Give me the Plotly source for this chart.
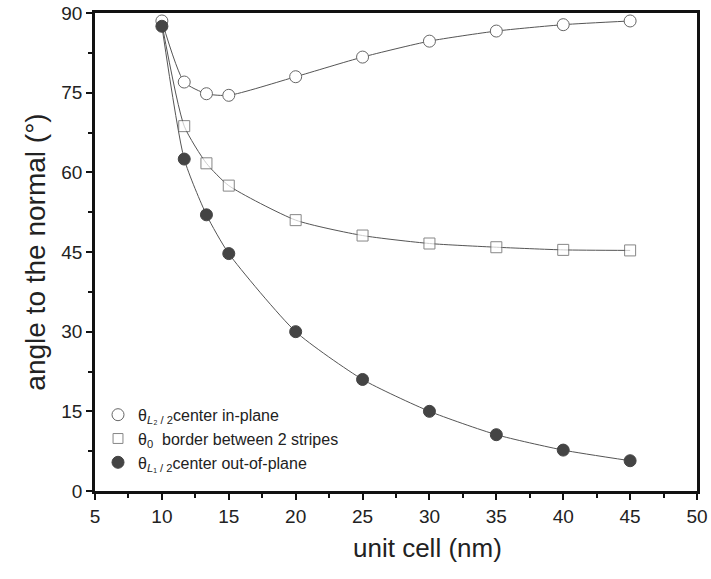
import plotly.graph_objects as go

unit_cell = [10, 11.67, 13.33, 15, 20, 25, 30, 35, 40, 45]
theta_in_plane = [88.5, 77.0, 74.8, 74.5, 78.0, 81.7, 84.7, 86.6, 87.8, 88.5]
theta_border = [88.0, 68.7, 61.7, 57.5, 51.0, 48.1, 46.6, 45.9, 45.4, 45.3]
theta_out_plane = [87.5, 62.5, 52.0, 44.7, 30.0, 21.0, 15.0, 10.6, 7.7, 5.7]

names = [
    "θ<sub><i>L</i>₂ / 2</sub>center in-plane",
    "θ<sub>0</sub>  border between 2 stripes",
    "θ<sub><i>L</i>₁ / 2</sub>center out-of-plane",
]

fig = go.Figure()
line_style = dict(color="#555555", width=1, shape="spline", smoothing=0.6)
for ys in [theta_in_plane, theta_border, theta_out_plane]:
    fig.add_trace(go.Scatter(x=unit_cell, y=ys, mode="lines", line=line_style,
                             showlegend=False, hoverinfo="skip"))

fig.add_trace(go.Scatter(x=unit_cell, y=theta_in_plane, mode="markers", name=names[0],
                         marker=dict(symbol="circle", size=12, color="white",
                                     line=dict(color="#666666", width=1))))
fig.add_trace(go.Scatter(x=unit_cell, y=theta_border, mode="markers", name=names[1],
                         marker=dict(symbol="square", size=[0] + [11] * 9, color="white",
                                     line=dict(color="#555555", width=1))))
fig.add_trace(go.Scatter(x=unit_cell, y=theta_out_plane, mode="markers", name=names[2],
                         marker=dict(symbol="circle", size=12, color="#444444",
                                     line=dict(color="#444444", width=1))))

font = "Liberation Sans, Arial, sans-serif"
fig.update_layout(
    width=711, height=579,
    margin=dict(l=95, r=14, t=13, b=88),
    paper_bgcolor="white", plot_bgcolor="white",
    font=dict(family=font, color="#222222", size=17),
    legend=dict(x=0.005, y=0.195, xanchor="left", yanchor="top",
                bgcolor="rgba(0,0,0,0)", font=dict(size=16), itemwidth=30,
                tracegroupgap=0),
    xaxis=dict(range=[5, 50], tickmode="linear", tick0=5, dtick=5, automargin=False,
               ticks="outside", ticklen=6, tickwidth=1.5, tickcolor="#111",
               showline=True, linecolor="#111", linewidth=2.5, mirror=True,
               showgrid=False, zeroline=False,
               minor=dict(ticks="outside", ticklen=4, dtick=2.5, tickcolor="#111", tickwidth=1.5),
               tickfont=dict(size=19)),
    yaxis=dict(range=[0, 90], tickmode="linear", tick0=0, dtick=15, automargin=False,
               ticks="outside", ticklen=6, tickwidth=1.5, tickcolor="#111",
               showline=True, linecolor="#111", linewidth=2.5, mirror=True,
               showgrid=False, zeroline=False,
               minor=dict(ticks="outside", ticklen=4, dtick=7.5, tickcolor="#111", tickwidth=1.5),
               title=dict(text="angle to the normal (°)", font=dict(size=28), standoff=8),
               tickfont=dict(size=19)),
    annotations=[dict(text="unit cell (nm)", xref="paper", yref="paper",
                      x=0.553, y=-0.119, xanchor="center", yanchor="middle",
                      showarrow=False, font=dict(size=26, color="#222222"))],
)

fig.write_html("out.html")
